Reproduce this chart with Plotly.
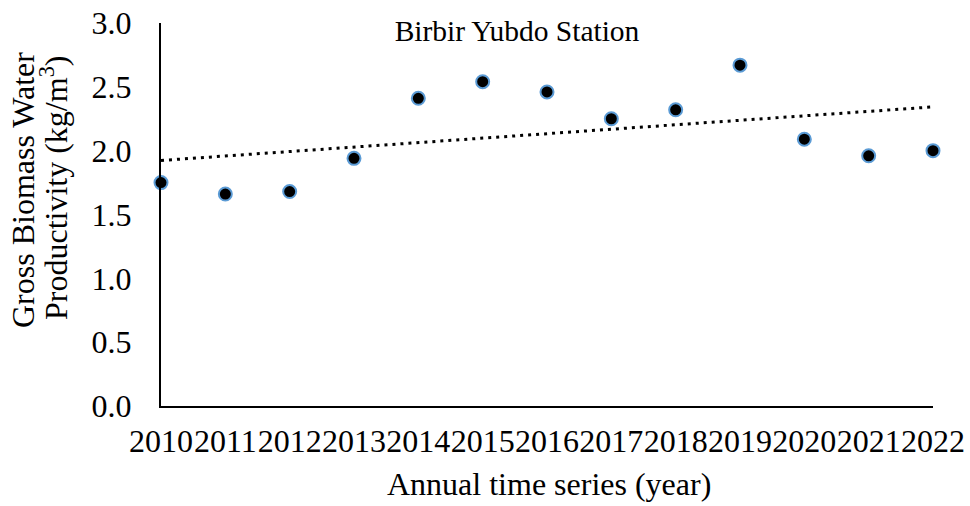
import numpy as np
import plotly.graph_objects as go

years = [2010, 2011, 2012, 2013, 2014, 2015, 2016, 2017, 2018, 2019, 2020, 2021, 2022]
gbwp = [1.75, 1.66, 1.68, 1.94, 2.41, 2.54, 2.46, 2.25, 2.32, 2.67, 2.09, 1.96, 2.00]
y_ticks = [0.0, 0.5, 1.0, 1.5, 2.0, 2.5, 3.0]

chart_title = "Birbir Yubdo Station"
x_title = "Annual time series (year)"
y_title_lines = ["Gross Biomass Water", "Productivity (kg/m<sup>3</sup>)"]

slope, intercept = np.polyfit(years, gbwp, 1)
trend_x = [years[0], years[-1]]
trend_y = [slope * x + intercept for x in trend_x]

FONT = "Liberation Serif, Times New Roman, serif"

W, H = 970, 506
L, T, R, B = 161, 23, 37, 100
PW, PH = W - L - R, H - T - B


def px_x(px):
    return (px - L) / PW


def px_y(py):
    return (H - B - py) / PH


fig = go.Figure()
fig.add_trace(go.Scatter(
    x=trend_x, y=trend_y, mode="lines",
    line=dict(color="black", width=3, dash="3px,5px"),
    hoverinfo="skip", showlegend=False,
))
fig.add_trace(go.Scatter(
    x=years, y=gbwp, mode="markers",
    marker=dict(color="black", size=13, line=dict(color="#5B9BD5", width=2)),
    cliponaxis=False, showlegend=False,
))

fig.update_layout(
    width=W, height=H,
    margin=dict(l=L, r=R, t=T, b=B, autoexpand=False),
    paper_bgcolor="white", plot_bgcolor="white",
    font=dict(family=FONT, size=32, color="black"),
    title=dict(text=chart_title, x=517 / W, xanchor="center",
               y=1 - 31 / H, yanchor="middle", yref="container",
               font=dict(family=FONT, size=29.5, color="black")),
    showlegend=False,
    annotations=[
        dict(text=x_title, xref="paper", yref="paper", x=px_x(549), y=px_y(484),
             xanchor="center", yanchor="middle", showarrow=False,
             font=dict(family=FONT, size=32, color="black")),
        dict(text=y_title_lines[0], xref="paper", yref="paper", x=px_x(23), y=px_y(190),
             xanchor="center", yanchor="middle", textangle=-90, showarrow=False,
             font=dict(family=FONT, size=32, color="black")),
        dict(text=y_title_lines[1], xref="paper", yref="paper", x=px_x(54), y=px_y(188),
             xanchor="center", yanchor="middle", textangle=-90, showarrow=False,
             font=dict(family=FONT, size=32, color="black")),
    ],
)
fig.update_xaxes(
    range=[2010, 2022], tickmode="array", tickvals=years,
    ticktext=[str(y) for y in years], tickangle=0,
    showgrid=False, zeroline=False,
    showline=True, linecolor="black", linewidth=2,
    ticks="", ticklabelstandoff=6, ticklabeloverflow="allow",
    tickfont=dict(family=FONT, size=32),
)
fig.update_yaxes(
    range=[0, 3], tickmode="array", tickvals=y_ticks,
    ticktext=[f"{v:.1f}" for v in y_ticks],
    showgrid=False, zeroline=False,
    showline=True, linecolor="black", linewidth=2,
    ticks="", ticklabelstandoff=21, ticklabeloverflow="allow",
    tickfont=dict(family=FONT, size=32),
)

fig.write_html("out.html", config={"displayModeBar": False},
               post_script="document.body.style.margin='0px';")
